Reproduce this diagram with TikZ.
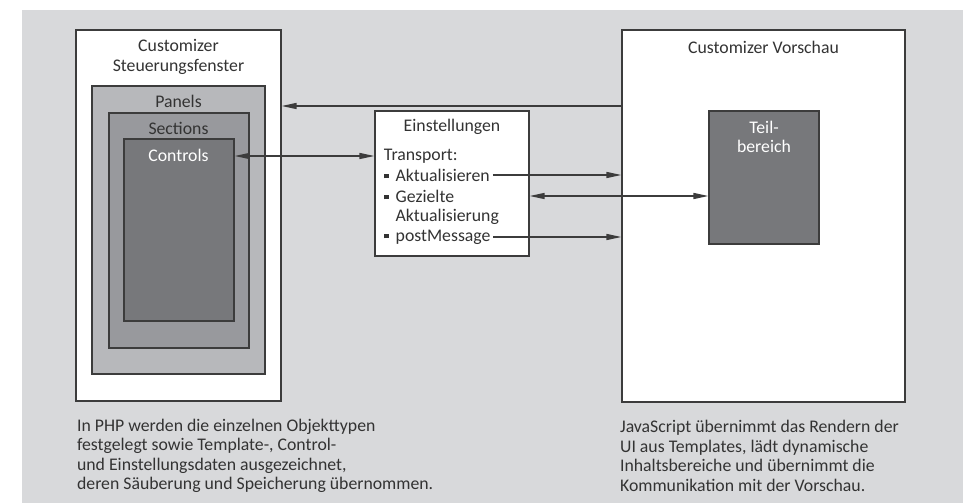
\documentclass[tikz,border=0pt]{standalone}
\usepackage{fontspec}
\setmainfont{Carlito}
\usetikzlibrary{arrows.meta,positioning,fit}
\definecolor{bggray}{HTML}{D8D9DB}
\definecolor{panelgray}{HTML}{B7B8BB}
\definecolor{sectgray}{HTML}{98999D}
\definecolor{ctrlgray}{HTML}{77787B}
\definecolor{linegray}{HTML}{3C3C3C}
\definecolor{textgray}{HTML}{333333}
\newcommand{\sqb}{\rule[0.32ex]{0.26em}{0.26em}\hspace{0.4em}}

\begin{document}
\begin{tikzpicture}[x=0.02cm, y=-0.02cm, >={Triangle[length=8.5pt,width=3.4pt]},
        font=\fontsize{10.1}{11.1}\selectfont, text=textgray,
        box/.style={draw=linegray,line width=0.7pt,inner sep=0pt},
        lbl/.style={inner sep=1pt,align=center},
        item/.style={inner sep=1.5pt,anchor=west},
        arr/.style={draw=linegray,line width=0.8pt}]
        \useasboundingbox (0,0) rectangle (963,503);
        \fill[bggray] (22,10) rectangle (963,503);
        % Steuerungsfenster (links)
        \node[box,fill=white,fit={(76,30) (281,401)}] (steuer) {};
        \node[box,fill=panelgray,fit={(92,86) (265,374)}] (panels) {};
        \node[box,fill=sectgray,fit={(109,113) (249,348)}] (sections) {};
        \node[box,fill=ctrlgray,fit={(124,139) (234,321)}] (controls) {};
        \node[lbl] at (178.5,57) (steuertitle) {Customizer\\Steuerungsfenster};
        \node[lbl] at (178.5,101) (panelslbl) {Panels};
        \node[lbl] at (178.5,128) (sectionslbl) {Sections};
        \node[lbl,text=white] at (178.5,155) (controlslbl) {Controls};
        % Vorschau (rechts)
        \node[box,fill=white,fit={(622,30) (905,402)}] (vorschau) {};
        \node[box,fill=ctrlgray,fit={(709,111) (819,244)}] (teil) {};
        \node[lbl] at (763.5,47) (vorschautitle) {Customizer Vorschau};
        \node[lbl,text=white] at (764,137) (teillbl) {Teil-\\bereich};
        % Einstellungen (Mitte)
        \node[box,fill=white,fit={(375,111) (529,256)}] (einst) {};
        \node[lbl] at (452,127) (einstlbl) {Einstellungen};
        \node[item] at (381,156) (transport) {Transport:};
        \node[item] at (381,175) (akt) {\sqb Aktualisieren};
        \node[item] at (381,196) (gez) {\sqb Gezielte};
        \node[item] at (381,217) (gez2) {\phantom{\sqb}Aktualisierung};
        \node[item] at (381,237) (post) {\sqb postMessage};
        \coordinate (toparrow) at (0,106);
        % Verbindungen
        \draw[arr,->] (vorschau.west |- toparrow) -- (steuer.east |- toparrow);
        \draw[arr,<->] (controls.east |- transport) -- (einst.west |- transport);
        \draw[arr,->] (akt.east) -- (vorschau.west |- akt.east);
        \draw[arr,<->] (einst.east |- gez) -- (teil.west |- gez);
        \draw[arr,->] (post.east) -- (vorschau.west |- post.east);
        % Beschreibungen
        \node[lbl,align=left,anchor=west] at (75,456) (phptext) {In PHP werden die einzelnen Objekttypen\\festgelegt sowie Template-, Control-\\und Einstellungsdaten ausgezeichnet,\\deren Säuberung und Speicherung übernommen.};
        \node[lbl,align=left,anchor=west] at (618,456) (jstext) {JavaScript übernimmt das Rendern der\\UI aus Templates, lädt dynamische\\Inhaltsbereiche und übernimmt die\\Kommunikation mit der Vorschau.};
\end{tikzpicture}
\end{document}
